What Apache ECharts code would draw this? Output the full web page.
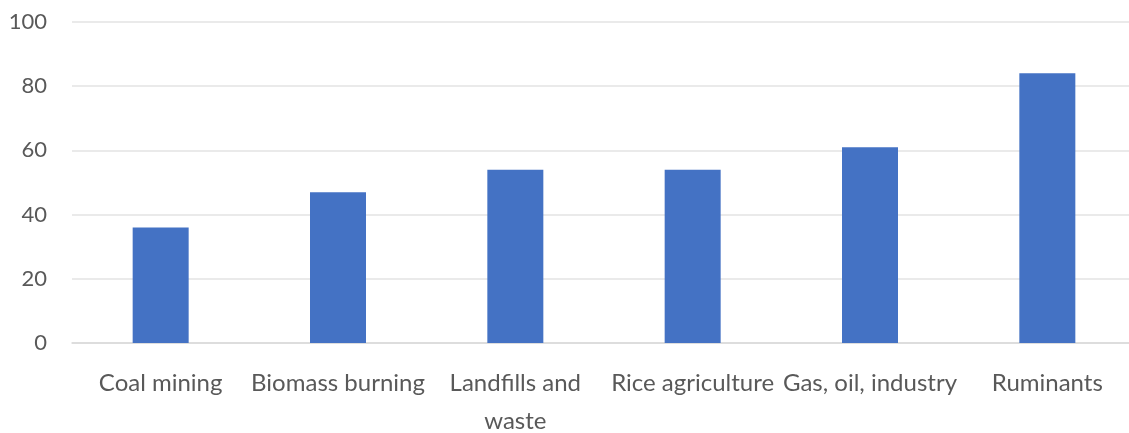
<!DOCTYPE html>
<html>
<head>
<meta charset="utf-8">
<script src="https://cdn.jsdelivr.net/npm/echarts@6/dist/echarts.min.js"></script>
<style>
  html, body { margin: 0; padding: 0; background: #ffffff; overflow: hidden; }
  /* the plot runs slightly past the right edge of the window */
  #chart { width: 1140px; height: 433px; }
</style>
</head>
<body>
<div id="chart"></div>
<script>
// Methane sources (emissions)
const categories = ['Coal mining', 'Biomass burning', 'Landfills and\nwaste', 'Rice agriculture', 'Gas, oil, industry', 'Ruminants'];
const values = [36, 47, 54, 54, 61, 84];
const yTicks = { min: 0, max: 100, interval: 20 };

const chart = echarts.init(document.getElementById('chart'), null, { renderer: 'canvas' });
chart.setOption({
  animation: false,
  backgroundColor: '#ffffff',
  grid: { left: 72, top: 22, bottom: 90, right: 4, containLabel: false, outerBoundsMode: 'none' },
  xAxis: {
    type: 'category',
    data: categories,
    axisTick: { show: false },
    axisLine: { lineStyle: { color: '#d9d9d9', width: 1.5 } },
    axisLabel: {
      interval: 0,
      margin: 21,
      color: '#595959',
      fontFamily: 'Lato',
      fontSize: 24,
      lineHeight: 38
    }
  },
  yAxis: {
    type: 'value',
    min: yTicks.min,
    max: yTicks.max,
    interval: yTicks.interval,
    axisLine: { show: false },
    axisTick: { show: false },
    splitLine: { lineStyle: { color: '#e3e3e3', width: 1.5 } },
    axisLabel: {
      margin: 25,
      color: '#595959',
      fontFamily: 'Lato',
      fontSize: 22
    }
  },
  series: [{
    type: 'bar',
    data: values,
    barWidth: 56,
    itemStyle: { color: '#4472c4' }
  }]
});
</script>
</body>
</html>
